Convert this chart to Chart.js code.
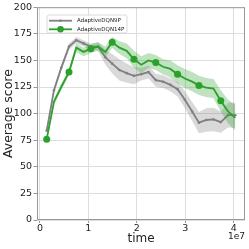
<!DOCTYPE html>
<html><head><meta charset="utf-8">
<script src="https://cdn.jsdelivr.net/npm/chart.js@4"></script>
<style>html,body{margin:0;padding:0;background:#fff}canvas{display:block}</style>
</head><body>
<canvas id="c" width="249" height="249"></canvas>
<script>
const times = [0.14e7,0.29e7,0.44e7,0.6e7,0.75e7,0.9e7,1.05e7,1.2e7,1.35e7,1.49e7,1.64e7,1.79e7,1.94e7,2.09e7,2.24e7,2.39e7,2.54e7,2.69e7,2.84e7,2.99e7,3.14e7,3.28e7,3.43e7,3.58e7,3.73e7,3.88e7,4.03e7];
const gray9P = [84,122,143,163,169,166,163,163,153,147,141,138,135.5,137,139,131.5,130,127,123,113,102,91.5,94,94.5,92,98.5,98.5];
const gray9PLow = [82,119,140,160,166,163,160,159,146,138,131,129,127.5,131,133,125.5,124,121,116,105,93,81.5,83,83.5,82,87,86.5];
const gray9PHigh = [86,125,146,166,172,169,166,167,160,156,151,147,143.5,143,145,137.5,136,133,130,121,111,101.5,105,105.5,102,110,110.5];
const green14P = [76,111,125,139,162,158,161,163,158,167,162,159,151,146,150,148,144,142,137,133,130,126.5,124.5,123.5,112,102,96];
const green14PLow = [74,108,122,136,158,154,157,159,153,162,156,152,143,138,143,141,137,134,128.5,124,121,117.5,115.5,114.5,102,91,84];
const green14PHigh = [78,114,128,142,166,162,165,167,163,172,168,166,159,154,157,155,151,150,145.5,142,139,135.5,133.5,132.5,122,113,108];
const xTickVals = [0,1e7,2e7,3e7,4e7];
const xTickLabels = ['0','1','2','3','4'];
const yTickVals = [0,25,50,75,100,125,150,175,200];
const yTickLabels = ['0','25','50','75','100','125','150','175','200'];
const seriesNames = ['AdaptiveDQN9P','AdaptiveDQN14P'];
const xOffsetText = '1e7';

const pts = (ys) => times.map((t,i)=>({x:t,y:ys[i]}));
const GRAY = '#808080', GREEN = '#2ca02c';
const FONT = "'DejaVu Sans', sans-serif";

const greenRadius = times.map((t,i)=> i % 3 === 0 ? 3.5 : 0);

const framePlugin = {
  id:'frame',
  afterDraw(chart){
    const {ctx, chartArea:a} = chart;
    ctx.save();
    ctx.strokeStyle = '#999999'; ctx.lineWidth = 1;
    ctx.strokeRect(a.left+0.5, a.top+0.5, a.right-a.left-1, a.bottom-a.top-1);
    // offset text
    ctx.fillStyle = '#222'; ctx.font = '9px ' + FONT;
    ctx.textAlign='right'; ctx.textBaseline='top';
    ctx.fillText(xOffsetText, 245, 232);
    // legend
    const bx=47, by=15, bw=80, bh=18, r=2;
    ctx.beginPath();
    ctx.moveTo(bx+r,by); ctx.lineTo(bx+bw-r,by); ctx.quadraticCurveTo(bx+bw,by,bx+bw,by+r);
    ctx.lineTo(bx+bw,by+bh-r); ctx.quadraticCurveTo(bx+bw,by+bh,bx+bw-r,by+bh);
    ctx.lineTo(bx+r,by+bh); ctx.quadraticCurveTo(bx,by+bh,bx,by+bh-r);
    ctx.lineTo(bx,by+r); ctx.quadraticCurveTo(bx,by,bx+r,by); ctx.closePath();
    ctx.fillStyle='rgba(255,255,255,0.85)'; ctx.fill();
    ctx.strokeStyle='#d0d0d0'; ctx.lineWidth=0.8; ctx.stroke();
    const rows = [{c:GRAY,y:20.7,mr:1.3,name:seriesNames[0]},{c:GREEN,y:29.3,mr:3.3,name:seriesNames[1]}];
    rows.forEach(rw=>{
      ctx.strokeStyle=rw.c; ctx.lineWidth=1.8;
      ctx.beginPath(); ctx.moveTo(49,rw.y); ctx.lineTo(72,rw.y); ctx.stroke();
      ctx.fillStyle=rw.c; ctx.beginPath(); ctx.arc(60.5,rw.y,rw.mr,0,Math.PI*2); ctx.fill();
      ctx.fillStyle='#222'; ctx.font='5.5px '+FONT; ctx.textAlign='left'; ctx.textBaseline='middle';
      ctx.fillText(rw.name, 77, rw.y+0.3);
    });
    ctx.restore();
  }
};

new Chart(document.getElementById('c'), {
  type:'line',
  data:{datasets:[
    {label:seriesNames[1], data:pts(green14P), borderColor:GREEN, backgroundColor:GREEN, borderWidth:1.8, pointRadius:greenRadius, pointBorderWidth:0, fill:false, order:0, tension:0},
    {label:'g-high', data:pts(green14PHigh), borderWidth:0, pointRadius:0, backgroundColor:'rgba(44,160,44,0.3)', fill:'+1', order:1},
    {label:'g-low', data:pts(green14PLow), borderWidth:0, pointRadius:0, fill:false, order:1},
    {label:seriesNames[0], data:pts(gray9P), borderColor:GRAY, backgroundColor:GRAY, borderWidth:1.8, pointRadius:1.3, pointBorderWidth:0, fill:false, order:2, tension:0},
    {label:'k-high', data:pts(gray9PHigh), borderWidth:0, pointRadius:0, backgroundColor:'rgba(128,128,128,0.3)', fill:'+1', order:3},
    {label:'k-low', data:pts(gray9PLow), borderWidth:0, pointRadius:0, fill:false, order:3}
  ]},
  options:{
    responsive:false, animation:false, devicePixelRatio:1,
    layout:{padding:{left:0,right:4,top:7,bottom:0}},
    plugins:{legend:{display:false}, tooltip:{enabled:false}},
    elements:{line:{tension:0}},
    scales:{
      x:{type:'linear', min:-0.06e7, max:4.23e7,
        afterBuildTicks(s){ s.ticks = xTickVals.map(v=>({value:v})); },
        afterFit(s){ s.height = 29; },
        grid:{color:'#dddddd', drawTicks:true, tickLength:3, tickColor:'#999999', lineWidth:1},
        border:{display:false},
        ticks:{padding:0, color:'#222', font:{family:FONT,size:9.5}, maxRotation:0,
          callback(v){ const i = xTickVals.indexOf(v); return i>=0 ? xTickLabels[i] : ''; }},
        title:{display:true, text:'time', color:'#222', font:{family:FONT,size:12}, padding:{top:0,bottom:3}}
      },
      y:{min:0, max:200,
        afterBuildTicks(s){ s.ticks = yTickVals.map(v=>({value:v})); },
        afterFit(s){ s.width = 37; },
        grid:{color:'#dddddd', drawTicks:true, tickLength:3.5, tickColor:'#999999', lineWidth:1},
        border:{display:false},
        ticks:{padding:1.5, color:'#222', font:{family:FONT,size:9.5},
          callback(v){ const i = yTickVals.indexOf(v); return i>=0 ? yTickLabels[i] : ''; }},
        title:{display:true, text:'Average score', color:'#222', font:{family:FONT,size:12.5}, padding:{top:1,bottom:0}}
      }
    }
  },
  plugins:[framePlugin]
});
</script>
</body></html>
